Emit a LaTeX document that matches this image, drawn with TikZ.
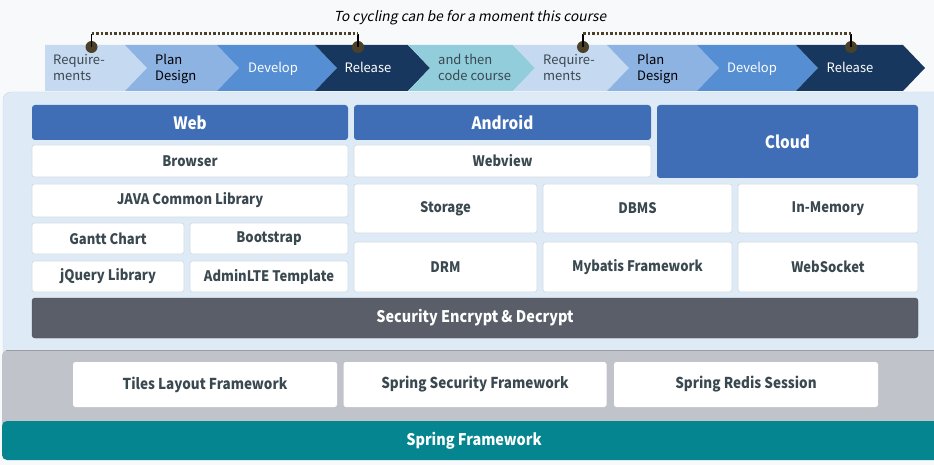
\documentclass[tikz,border=0pt]{standalone}
\usepackage{fontspec}
\setmainfont{Noto Sans CJK KR}
\newfontfamily\itfont{Noto Sans CJK KR}[FakeSlant=0.2]
\newfontfamily\cdfont{Noto Sans CJK KR}[FakeStretch=0.9]
\usetikzlibrary{positioning}
\definecolor{pagebg}{HTML}{F8F9FB}
\definecolor{panelbg}{HTML}{DEEBF6}
\definecolor{panelline}{HTML}{C8D8E8}
\definecolor{hdrblue}{HTML}{3F6EB6}
\definecolor{boxline}{HTML}{D3DCE5}
\definecolor{txtdark}{HTML}{3A4850}
\definecolor{secgrey}{HTML}{5A5E68}
\definecolor{bandgrey}{HTML}{C1C3CB}
\definecolor{teal}{HTML}{04858F}
\definecolor{chA}{HTML}{C5D9F0}
\definecolor{chB}{HTML}{8DB3E2}
\definecolor{chC}{HTML}{568ED4}
\definecolor{chD}{HTML}{17375E}
\definecolor{chE}{HTML}{92CDDC}
\definecolor{pin}{HTML}{4B4129}
\tikzset{
  wbox/.style={draw=boxline, line width=0.8pt, fill=white, rounded corners=2.5pt, inner sep=0pt,
    font=\cdfont\bfseries\fontsize{14.5}{16}\selectfont, text=txtdark},
  hbox/.style={fill=hdrblue, rounded corners=3pt, inner sep=0pt,
    font=\cdfont\bfseries\fontsize{17}{19}\selectfont, text=white},
  chtxt/.style={font=\fontsize{13}{16}\selectfont, align=left, inner sep=0pt},
  pinball/.style={circle, fill=pin, minimum size=12pt, inner sep=0pt},
  dotline/.style={draw=pin, line width=3pt, dash pattern=on 2.6pt off 1.9pt},
}
\begin{document}
\begin{tikzpicture}[x=1pt,y=-1pt]
\useasboundingbox (0,0) rectangle (934,465);
\fill[pagebg] (0,0) rectangle (934,465);

% panels
\draw[panelline, fill=panelbg, rounded corners=8pt] (3,92) rectangle (960,360);
\fill[bandgrey, rounded corners=6pt] (2,350) rectangle (960,430);
\draw[bandgrey!80!black, line width=0.5pt] (6,350) -- (934,350);
\fill[teal, rounded corners=5pt] (2,421) rectangle (960,460);

% chevrons
\fill[chA] (45,45) -- (125,45) -- (147,68) -- (125,91) -- (45,91) -- cycle;
\fill[chB] (125,45) -- (217,45) -- (239,68) -- (217,91) -- (125,91) -- (147,68) -- cycle;
\fill[chC] (217,45) -- (315,45) -- (337,68) -- (315,91) -- (217,91) -- (239,68) -- cycle;
\fill[chD] (315,45) -- (408,45) -- (430,68) -- (408,91) -- (315,91) -- (337,68) -- cycle;
\fill[chE] (408,45) -- (513,45) -- (535,68) -- (513,91) -- (408,91) -- (430,68) -- cycle;
\fill[chA] (513,45) -- (607,45) -- (629,68) -- (607,91) -- (513,91) -- (535,68) -- cycle;
\fill[chB] (607,45) -- (697,45) -- (719,68) -- (697,91) -- (607,91) -- (629,68) -- cycle;
\fill[chC] (697,45) -- (796,45) -- (818,68) -- (796,91) -- (697,91) -- (719,68) -- cycle;
\fill[chD] (796,45) -- (903,45) -- (925,68) -- (903,91) -- (796,91) -- (818,68) -- cycle;

\node[chtxt, text=txtdark, anchor=base west] (c1) at (53,81) {Require-\\ments};
\node[chtxt, text=black, anchor=base west] (c2) at (155,81) {Plan\\Design};
\node[chtxt, text=white, anchor=base] (c3) at (273,73) {Develop};
\node[chtxt, text=white, anchor=base] (c4) at (368,73) {Release};
\node[chtxt, text=txtdark, anchor=base west] (c5) at (438,81) {and then\\code course};
\node[chtxt, text=txtdark, anchor=base west] (c6) at (543,81) {Require-\\ments};
\node[chtxt, text=black, anchor=base west] (c7) at (637,81) {Plan\\Design};
\node[chtxt, text=white, anchor=base] (c8) at (752,73) {Develop};
\node[chtxt, text=white, anchor=base] (c9) at (850,73) {Release};

% pins and dotted lines
\node[pinball] (p1) at (91.5,47) {};
\node[pinball] (p2) at (358,47) {};
\node[pinball] (p3) at (583,47) {};
\node[pinball] (p4) at (851,47) {};
\coordinate (t1) at (91.5,34);
\coordinate (t2) at (358,34);
\coordinate (t3) at (583,34);
\coordinate (t4) at (851,34);
\draw[pin, line width=1.2pt] (p1.center) -- (t1);
\draw[pin, line width=1.2pt] (p2.center) -- (t2);
\draw[pin, line width=1.2pt] (p3.center) -- (t3);
\draw[pin, line width=1.2pt] (p4.center) -- (t4);
\draw[dotline] (t1) -- (t2);
\draw[dotline] (t3) -- (t4);
\node[font=\itfont\fontsize{13.8}{15}\selectfont, text=black, inner sep=0pt, anchor=base] (cap) at (470,22) {To cycling can be for a moment this course};

% boxes
\node[hbox, minimum width=316pt, minimum height=35pt] (web) at (190,122.5) {Web};
\node[wbox, minimum width=316pt, minimum height=32pt] (browser) at (190,161) {Browser};
\node[wbox, minimum width=316pt, minimum height=33pt] (java) at (190,200.5) {JAVA Common Library};
\node[wbox, minimum width=152pt, minimum height=31pt] (gantt) at (108,238.5) {Gantt Chart};
\node[wbox, minimum width=158pt, minimum height=31pt] (boot) at (269,238.5) {Bootstrap};
\node[wbox, minimum width=152pt, minimum height=31pt] (jq) at (108,276.5) {jQuery Library};
\node[wbox, minimum width=158pt, minimum height=31pt] (admin) at (269,276.5) {AdminLTE Template};

\node[hbox, minimum width=297pt, minimum height=35pt] (android) at (502.5,122.5) {Android};
\node[wbox, minimum width=297pt, minimum height=32pt] (webview) at (502.5,161) {Webview};
\node[hbox, minimum width=261pt, minimum height=73pt] (cloud) at (787.5,141.5) {Cloud};

\node[wbox, minimum width=183pt, minimum height=49pt] (storage) at (445.5,208.5) {Storage};
\node[wbox, minimum width=189pt, minimum height=49pt] (dbms) at (637.5,208.5) {DBMS};
\node[wbox, minimum width=180pt, minimum height=49pt] (inmem) at (828,208.5) {In-Memory};
\node[wbox, minimum width=183pt, minimum height=50pt] (drm) at (445.5,267) {DRM};
\node[wbox, minimum width=189pt, minimum height=50pt] (mybatis) at (637.5,267) {Mybatis Framework};
\node[wbox, minimum width=180pt, minimum height=50pt] (websock) at (828,267) {WebSocket};

\node[fill=secgrey, draw=secgrey!80!black, rounded corners=3pt, inner sep=0pt, minimum width=886pt, minimum height=40pt,
  font=\cdfont\bfseries\fontsize{16}{18}\selectfont, text=white] (sec) at (475,318) {Security Encrypt \& Decrypt};

\node[wbox, draw=none, minimum width=264pt, minimum height=45pt, font=\cdfont\bfseries\fontsize{15}{17}\selectfont] (tiles) at (205,384.5) {Tiles Layout Framework};
\node[wbox, draw=none, minimum width=263pt, minimum height=45pt, font=\cdfont\bfseries\fontsize{15}{17}\selectfont] (ssec) at (475,384.5) {Spring Security Framework};
\node[wbox, draw=none, minimum width=264pt, minimum height=45pt, font=\cdfont\bfseries\fontsize{15}{17}\selectfont] (redis) at (746,384.5) {Spring Redis Session};

\node[font=\cdfont\bfseries\fontsize{16}{18}\selectfont, text=white, inner sep=0pt] (spring) at (474,440.5) {Spring Framework};
\end{tikzpicture}
\end{document}
